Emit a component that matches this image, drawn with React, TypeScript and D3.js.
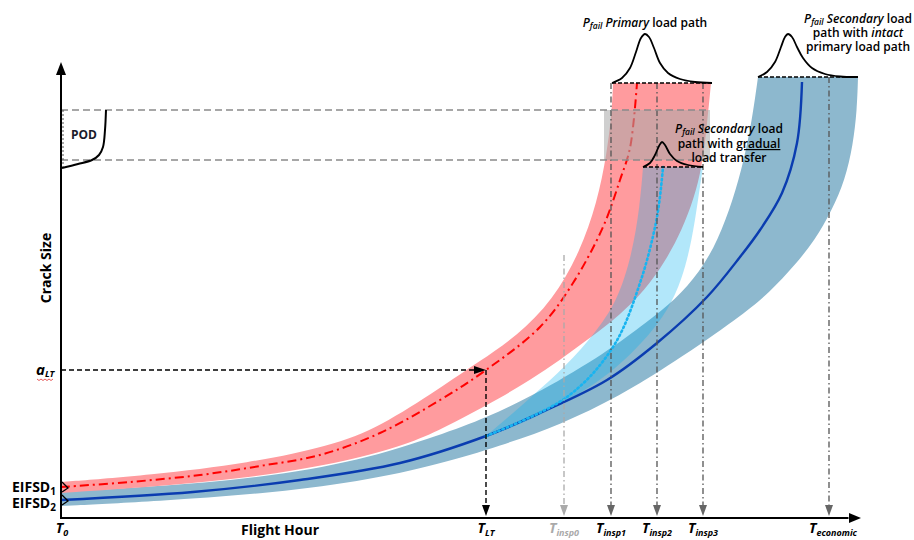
import React from "react";
import * as d3 from "d3";

type Pt = [number, number];

// schematic units: flight hour (x) and crack size (y)
const markerNames = ["LT", "insp0", "insp1", "insp2", "insp3", "economic"];
const markerHours = [85, 100.6, 110, 119.2, 128.4, 153.6];
const markerTop = [29.6, 52.6, 87, 87, 87, 88.2];
const markerColors = ["#000", "#aaa", "#555", "#555", "#555", "#555"];

const aLT = 29.6;
const podLevels = [81.6, 71.6];
const podEnd = 129.8;
const grayBox = [108.6, 129.8];

// primary load path (red)
const redUpper: Pt[] = [[0, 7.2], [17.8, 8.6], [37.8, 11], [53.8, 14.4], [63.8, 18.2], [75.8, 26], [83.8, 31.4], [91.2, 36.4], [98.4, 43.6], [103.8, 53.2], [107.2, 63], [109.2, 73], [110.2, 81.6], [110.4, 87]];
const redLower: Pt[] = [[0, 5], [17.8, 6.2], [37.8, 8], [55.8, 11], [67.8, 14.2], [75.8, 17.6], [81.8, 20.8], [87.8, 24], [93.8, 27.6], [99.8, 31.6], [105.8, 36], [111.8, 40.6], [116.8, 45.6], [120.8, 51.2], [124.2, 57.6], [126.6, 64], [128.2, 70.2], [129.2, 78.6], [130, 87]];
const redMean: Pt[] = [[0, 6.2], [13.8, 7.2], [27.8, 8.6], [39.8, 10.4], [51.8, 12.6], [63.8, 17], [75.8, 23.6], [85, 29.6], [95.8, 38.2], [102.4, 47], [108.4, 58.2], [111.8, 67.6], [113.8, 74], [115.2, 87]];

// secondary load path, intact primary (dark blue)
const blueUpper: Pt[] = [[0, 5.2], [17.8, 6.2], [39.8, 8], [59.8, 11.4], [75.8, 16.6], [85, 20], [95.8, 25.2], [109.2, 33.2], [117.2, 39.2], [122.8, 43.6], [127.8, 49.2], [131.4, 55.6], [134.4, 63.6], [136.6, 71.6], [138.2, 79.6], [139.4, 88.2]];
const blueLower: Pt[] = [[0, 2.4], [19.8, 3.4], [39.8, 4.8], [59.8, 7.2], [75.8, 10.8], [87.8, 14.4], [99.8, 18.6], [111.8, 24.4], [122.4, 31], [135.8, 40.2], [141.8, 45.2], [146.8, 50.6], [150.8, 55.6], [154.2, 61.6], [156.8, 67.6], [158.4, 74.6], [159.2, 81.6], [159.4, 88.2]];
const blueMean: Pt[] = [[0, 3.6], [26.4, 5.2], [47.8, 7.6], [67.8, 11], [85, 16.4], [95.8, 21], [109.2, 27.6], [119.2, 35], [129.2, 44.2], [135.8, 52.2], [139.8, 57.6], [144.2, 65], [147.2, 75], [148.2, 87.2]];

// secondary load path, gradual load transfer (light blue)
const cyanUpper: Pt[] = [[85, 16.4], [88.8, 19.6], [93.8, 24], [101.2, 30.6], [106.8, 37], [111.2, 43.2], [114.2, 52.6], [115.8, 62.6], [116.4, 70.2]];
const cyanLower: Pt[] = [[85, 16.2], [95.8, 20.2], [109.2, 28], [117.2, 36], [121.4, 41.6], [124.2, 47.6], [126.2, 55.6], [127.4, 63.6], [128.4, 70.2]];
const cyanMean: Pt[] = [[85, 16.4], [101.2, 24.2], [110.4, 34.2], [115.8, 47], [119.2, 60.2], [120.4, 70.2]];

// failure distributions
const pdfPrimary: Pt[] = [[110.2, 87], [112.2, 88], [113.8, 90], [115, 93.2], [116, 96], [116.8, 96.8], [117.6, 96.2], [118.6, 94], [119.8, 91], [121.4, 89], [123.8, 87.8], [126.8, 87.2], [130.2, 87]];
const pdfIntact: Pt[] = [[139.4, 88.2], [141.2, 89.2], [142.8, 91.2], [144, 94.2], [144.8, 96.2], [145.4, 96.8], [146.2, 96.2], [147.2, 94.2], [148.4, 92], [150.2, 90], [152.8, 88.8], [155.8, 88.3], [159.4, 88.2]];
const pdfGradual: Pt[] = [[116.4, 70.2], [117.8, 71], [118.8, 72.6], [119.6, 74.4], [120.2, 75.2], [120.8, 74.6], [121.8, 72.8], [123.2, 71.4], [125.4, 70.6], [128.4, 70.2]];
const podCurve: Pt[] = [[9, 81.6], [8.8, 77.6], [8.4, 74.2], [7.6, 72.6], [6.2, 71.6], [3.4, 70.8], [0.2, 70]];
const eifsd1Pdf: Pt[] = [[0.2, 7.2], [0.8, 6.6], [1.4, 6], [0.8, 5.6], [0.2, 5.2]];
const eifsd2Pdf: Pt[] = [[0.2, 4.6], [0.8, 4], [1.4, 3.4], [0.8, 3], [0.2, 2.6]];

const x = d3.scaleLinear().domain([0, 160]).range([61, 861]);
const y = d3.scaleLinear().domain([0, 100]).range([518, 18]);

const smooth = d3
  .line<Pt>()
  .x((d) => x(d[0]))
  .y((d) => y(d[1]))
  .curve(d3.curveCatmullRom.alpha(0.5));
const soft = d3
  .line<Pt>()
  .x((d) => x(d[0]))
  .y((d) => y(d[1]))
  .curve(d3.curveBasis);
const straight = d3
  .line<Pt>()
  .x((d) => x(d[0]))
  .y((d) => y(d[1]));

const band = (upper: Pt[], lower: Pt[]) => {
  const a = soft(upper) as string;
  const b = soft([...lower].reverse()) as string;
  return a + "L" + b.slice(1) + "Z";
};

const font = "'Open Sans', 'DejaVu Sans', sans-serif";

const TLabel = ({ cx, name, color }: { cx: number; name: string; color: string }) => (
  <text x={cx} y={533} textAnchor="middle" fontStyle="italic" fontWeight={700} fill={color}>
    <tspan fontSize={14}>T</tspan>
    <tspan fontSize={9} dy={2.5}>{name}</tspan>
  </text>
);

export default function App() {
  const y0 = y(0);
  const xLT = x(markerHours[0]);
  return (
    <svg width={914} height={540} style={{ position: "absolute", left: 0, top: 0 }} fontFamily={font}>
      <rect width={914} height={540} fill="#fff" />

      {/* scatter bands */}
      <path d={band(blueUpper, blueLower)} fill="#8DB8CE" />
      <path d={band(redUpper, redLower)} fill="#FF9B9E" />
      <path d={band(cyanUpper, cyanLower)} fill="#00B0F0" fillOpacity={0.3} />

      {/* mean crack growth curves */}
      <path d={smooth(blueMean) as string} fill="none" stroke="#0A3CB0" strokeWidth={2.4} />
      <path d={smooth(cyanMean) as string} fill="none" stroke="#18B4F0" strokeWidth={2.6} strokeDasharray="1.5,3" strokeLinecap="round" />
      <path d={smooth(redMean) as string} fill="none" stroke="#FF0000" strokeWidth={2} strokeDasharray="9,4,2,4" />

      {/* POD window */}
      <rect x={x(grayBox[0])} y={y(podLevels[0])} width={x(grayBox[1]) - x(grayBox[0])} height={y(podLevels[1]) - y(podLevels[0])} fill="#A9A9A9" fillOpacity={0.56} />

      {/* inspection / economic markers */}
      {markerHours.map((h, i) =>
        i === 0 ? null : (
          <g key={markerNames[i]}>
            <line x1={x(h)} x2={x(h)} y1={y(markerTop[i])} y2={y0 - 10} stroke={markerColors[i]} strokeWidth={1.3} strokeDasharray="6,3,1.5,3" />
            <polygon points={`${x(h) - 4},${y0 - 13} ${x(h) + 4},${y0 - 13} ${x(h)},${y0 - 2}`} fill={markerColors[i] === "#aaa" ? "#aaa" : "#666"} />
          </g>
        )
      )}

      {/* a_LT / T_LT */}
      <line x1={x(0)} x2={xLT - 10} y1={y(aLT)} y2={y(aLT)} stroke="#000" strokeWidth={1.4} strokeDasharray="5,3" />
      <polygon points={`${xLT - 12},${y(aLT) - 4} ${xLT - 12},${y(aLT) + 4} ${xLT},${y(aLT)}`} fill="#000" />
      <line x1={xLT} x2={xLT} y1={y(aLT)} y2={y0 - 10} stroke="#000" strokeWidth={1.4} strokeDasharray="5,3" />
      <polygon points={`${xLT - 4},${y0 - 13} ${xLT + 4},${y0 - 13} ${xLT},${y0 - 2}`} fill="#000" />

      {/* POD levels */}
      {podLevels.map((lv) => (
        <line key={lv} x1={x(0)} x2={x(podEnd)} y1={y(lv)} y2={y(lv)} stroke="#8a8a8a" strokeWidth={1.3} strokeDasharray="7,4" />
      ))}
      <line x1={x(0.4)} x2={x(0.4)} y1={y(podLevels[0])} y2={y(70)} stroke="#555" strokeWidth={1} strokeDasharray="2,2" />
      <path d={smooth(podCurve) as string} fill="none" stroke="#000" strokeWidth={2} />

      {/* failure pdfs */}
      {[pdfPrimary, pdfIntact, pdfGradual].map((p, i) => (
        <g key={i}>
          <line x1={x(p[0][0])} x2={x(p[p.length - 1][0])} y1={y(p[0][1])} y2={y(p[0][1])} stroke="#000" strokeWidth={1.3} strokeDasharray="4,2" />
          <path d={smooth(p) as string} fill="none" stroke="#000" strokeWidth={1.8} />
        </g>
      ))}
      <path d={straight(eifsd1Pdf) as string} fill="none" stroke="#000" strokeWidth={1.3} />
      <path d={straight(eifsd2Pdf) as string} fill="none" stroke="#000" strokeWidth={1.3} />

      {/* axes */}
      <line x1={x(0)} x2={x(0)} y1={y0 + 1} y2={y(89)} stroke="#000" strokeWidth={2} />
      <polygon points={`${x(0) - 5},${y(88.6)} ${x(0) + 5},${y(88.6)} ${x(0)},${y(91.2)}`} fill="#000" />
      <line x1={x(0) - 1} x2={x(157.5)} y1={y0} y2={y0} stroke="#000" strokeWidth={2} />
      <polygon points={`${x(157.6)},${y0 - 5} ${x(157.6)},${y0 + 5} ${x(160)},${y0}`} fill="#000" />

      {/* texts */}
      <text x={47} y={268} transform="rotate(-90 47 268)" textAnchor="middle" dominantBaseline="middle" fontSize={14} fontWeight={700}>Crack Size</text>
      <text x={280} y={535} textAnchor="middle" fontSize={14} fontWeight={700}>Flight Hour</text>
      <text x={x(0) + 1} y={533} textAnchor="middle" fontStyle="italic" fontWeight={700}>
        <tspan fontSize={14}>T</tspan>
        <tspan fontSize={9} dy={2.5}>0</tspan>
      </text>
      {markerNames.map((n, i) => (
        <TLabel key={n} cx={x(markerHours[i]) + (n === "economic" ? 4 : 0)} name={n} color={i === 1 ? "#aaa" : "#000"} />
      ))}
      <text x={36} y={y(aLT) + 5} fontStyle="italic" fontWeight={700}>
        <tspan fontSize={15}>a</tspan>
        <tspan fontSize={9} dy={2}>LT</tspan>
      </text>
      <path d={`M37,${y(aLT) + 9} l2,1.5 l2,-1.5 l2,1.5 l2,-1.5 l2,1.5 l2,-1.5 l2,1.5 l2,-1.5`} fill="none" stroke="#e03030" strokeWidth={0.8} />
      <text x={12} y={492} fontWeight={700}>
        <tspan fontSize={14}>EIFSD</tspan>
        <tspan fontSize={10} dy={3}>1</tspan>
      </text>
      <text x={12} y={508} fontWeight={700}>
        <tspan fontSize={14}>EIFSD</tspan>
        <tspan fontSize={10} dy={3}>2</tspan>
      </text>
      <text x={84} y={139} textAnchor="middle" fontSize={12} fontWeight={700} fill="#1a1a2a">POD</text>

      <g fontSize={12} fontWeight={600} textAnchor="middle">
        <text x={645} y={27}>
          <tspan fontStyle="italic">P</tspan>
          <tspan fontStyle="italic" fontSize={8.5} dy={2}>fail</tspan>
          <tspan fontStyle="italic" dy={-2}> Primary</tspan>
          <tspan> load path</tspan>
        </text>

        <text x={858} y={23}>
          <tspan fontStyle="italic">P</tspan>
          <tspan fontStyle="italic" fontSize={8.5} dy={2}>fail</tspan>
          <tspan fontStyle="italic" dy={-2}> Secondary</tspan>
          <tspan> load</tspan>
        </text>
        <text x={858} y={37}>
          path with <tspan fontStyle="italic">intact</tspan>
        </text>
        <text x={858} y={51}>primary load path</text>

        <text x={729} y={133}>
          <tspan fontStyle="italic">P</tspan>
          <tspan fontStyle="italic" fontSize={8.5} dy={2}>fail</tspan>
          <tspan fontStyle="italic" dy={-2}> Secondary</tspan>
          <tspan> load</tspan>
        </text>
        <text x={729} y={148}>
          path with <tspan style={{ textDecoration: "underline" }}>gradual</tspan>
        </text>
        <text x={729} y={162}>load transfer</text>
      </g>
    </svg>
  );
}
